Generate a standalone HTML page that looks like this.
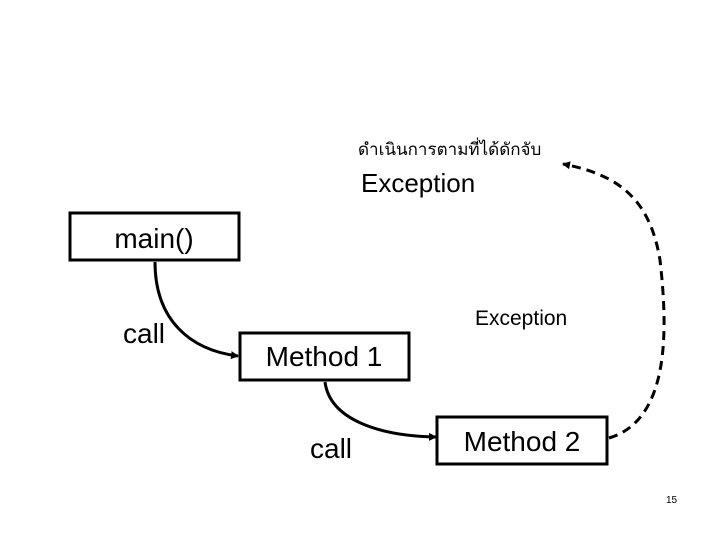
<!DOCTYPE html>
<html><head><meta charset="utf-8"><style>
body{margin:0;background:#fff;}
svg{display:block}
text{font-family:"Liberation Sans",Arial,sans-serif;fill:#000}
</style></head><body>
<svg width="720" height="540" viewBox="0 0 720 540" xmlns="http://www.w3.org/2000/svg">
<defs>
<marker id="a" markerWidth="8" markerHeight="8" refX="7" refY="4" orient="auto" markerUnits="userSpaceOnUse"><path d="M0,0 L8,4 L0,8 z" fill="#000"/></marker>
</defs>
<text x="358" y="155" font-family="Liberation Serif, serif" style="font-family:'Liberation Serif','Noto Serif CJK SC',serif" font-size="17">ดำเนินการตามที่ได้ดักจับ</text>
<text x="361" y="192" font-size="26">Exception</text>
<text x="475" y="325" font-size="21">Exception</text>
<rect x="70" y="213" width="169" height="47" fill="#fff" stroke="#000" stroke-width="3"/>
<text x="154" y="248" font-size="28" text-anchor="middle">main()</text>
<rect x="240" y="333" width="169" height="47" fill="#fff" stroke="#000" stroke-width="3"/>
<text x="324" y="366" font-size="28" text-anchor="middle">Method 1</text>
<rect x="437" y="417" width="170" height="47" fill="#fff" stroke="#000" stroke-width="3"/>
<text x="522" y="451" font-size="28" text-anchor="middle">Method 2</text>
<text x="123" y="343" font-size="28">call</text>
<text x="310" y="458" font-size="28">call</text>
<path d="M155,262 C155,320 190,350 238,356" fill="none" stroke="#000" stroke-width="3" marker-end="url(#a)"/>
<path d="M325,382 C330,420 380,436 436,437" fill="none" stroke="#000" stroke-width="3" marker-end="url(#a)"/>
<path d="M609,438 C670,420 668,330 660,260 C650,200 620,175 563,164" fill="none" stroke="#000" stroke-width="3" stroke-dasharray="9,6" marker-end="url(#a)"/>
<text x="666" y="503" font-size="10">15</text>
</svg>
</body></html>
